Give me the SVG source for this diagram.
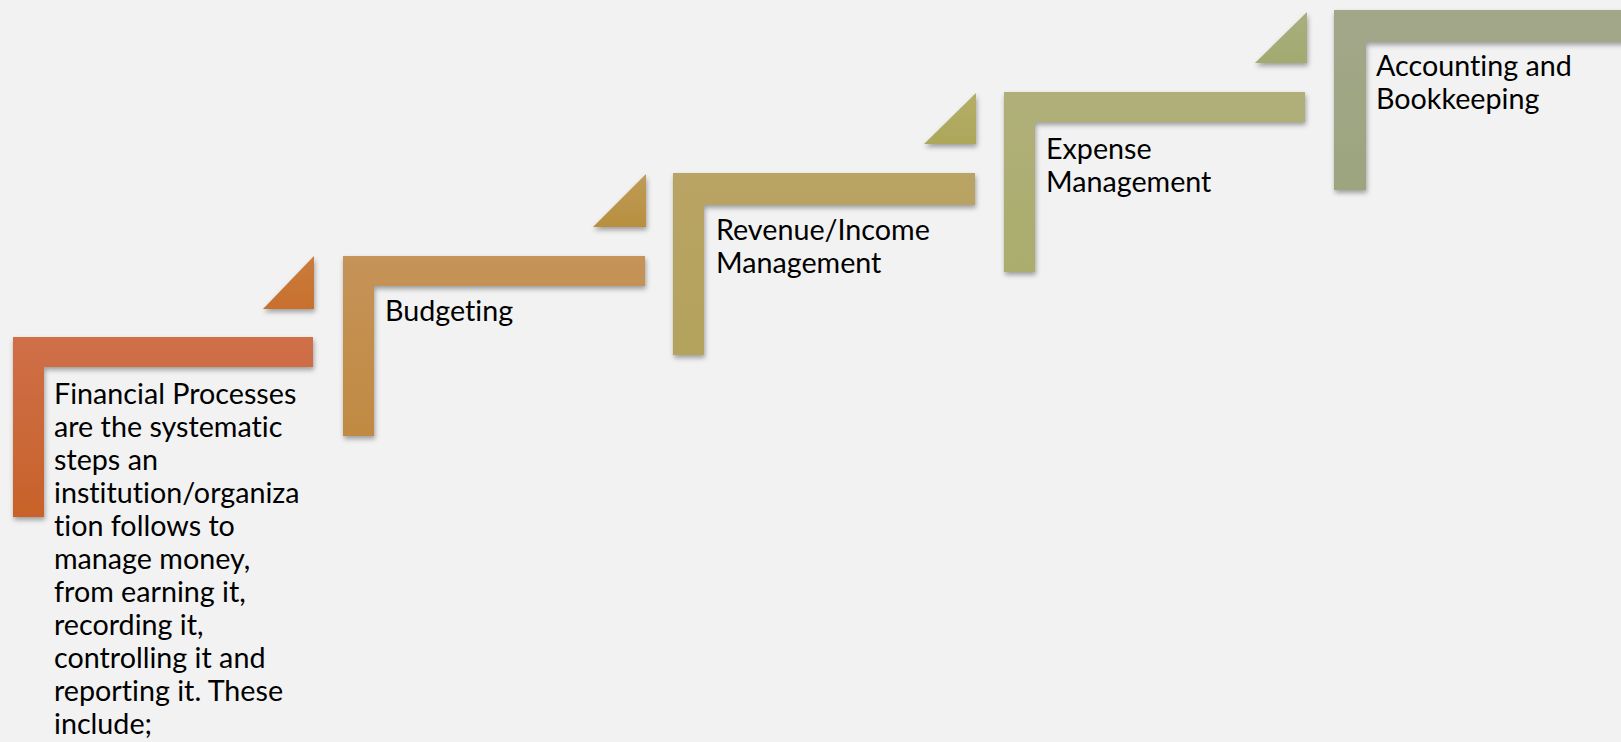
<svg xmlns="http://www.w3.org/2000/svg" width="1621" height="742" viewBox="0 0 1621 742">
  <style>
    .lbl { font-family: Lato, "Open Sans", "Liberation Sans", sans-serif; font-size: 28.7px; fill: #000; font-variant-ligatures: none; }
  </style>
  <defs>
    <filter id="sh" x="-10%" y="-10%" width="130%" height="130%">
      <feDropShadow dx="1" dy="3" stdDeviation="2.5" flood-color="#000" flood-opacity="0.35"/>
    </filter>
    <linearGradient id="g1" x1="0" y1="0" x2="0" y2="1">
      <stop offset="0" stop-color="#CF6F48"/>
      <stop offset="1" stop-color="#C8622A"/>
    </linearGradient>
    <linearGradient id="g2" x1="0" y1="0" x2="0" y2="1">
      <stop offset="0" stop-color="#C69358"/>
      <stop offset="1" stop-color="#C08A42"/>
    </linearGradient>
    <linearGradient id="g3" x1="0" y1="0" x2="0" y2="1">
      <stop offset="0" stop-color="#B9A365"/>
      <stop offset="1" stop-color="#B3A35C"/>
    </linearGradient>
    <linearGradient id="g4" x1="0" y1="0" x2="0" y2="1">
      <stop offset="0" stop-color="#B0AF7A"/>
      <stop offset="1" stop-color="#AAAD6C"/>
    </linearGradient>
    <linearGradient id="g5" x1="0" y1="0" x2="0" y2="1">
      <stop offset="0" stop-color="#A2A78A"/>
      <stop offset="1" stop-color="#9CA57E"/>
    </linearGradient>
    <linearGradient id="t1" x1="0" y1="0" x2="0" y2="1">
      <stop offset="0" stop-color="#CA7C3C"/>
      <stop offset="1" stop-color="#C8702E"/>
    </linearGradient>
    <linearGradient id="t2" x1="0" y1="0" x2="0" y2="1">
      <stop offset="0" stop-color="#BE9C58"/>
      <stop offset="1" stop-color="#B88F3E"/>
    </linearGradient>
    <linearGradient id="t3" x1="0" y1="0" x2="0" y2="1">
      <stop offset="0" stop-color="#B3AD68"/>
      <stop offset="1" stop-color="#ADA75A"/>
    </linearGradient>
    <linearGradient id="t4" x1="0" y1="0" x2="0" y2="1">
      <stop offset="0" stop-color="#A9AE7E"/>
      <stop offset="1" stop-color="#A3AA70"/>
    </linearGradient>
  </defs>
  <rect width="1621" height="742" fill="#F2F2F2"/>

  <g id="step1">
    <path d="M13 337 H313 V367 H44 V517 H13 Z" fill="url(#g1)" filter="url(#sh)"/>
    <polygon points="314,256 314,309 263,309" fill="url(#t1)" filter="url(#sh)"/>
    <text class="lbl" x="54" y="404">Financial Processes</text>
    <text class="lbl" x="54" y="437">are the systematic</text>
    <text class="lbl" x="54" y="470">steps an</text>
    <text class="lbl" x="54" y="503">institution/organiza</text>
    <text class="lbl" x="54" y="536">tion follows to</text>
    <text class="lbl" x="54" y="569">manage money,</text>
    <text class="lbl" x="54" y="602">from earning it,</text>
    <text class="lbl" x="54" y="635">recording it,</text>
    <text class="lbl" x="54" y="668">controlling it and</text>
    <text class="lbl" x="54" y="701">reporting it. These</text>
    <text class="lbl" x="54" y="734">include;</text>
  </g>

  <g id="step2">
    <path d="M343 256 H645 V286 H374 V436 H343 Z" fill="url(#g2)" filter="url(#sh)"/>
    <polygon points="646,174 646,227 593,227" fill="url(#t2)" filter="url(#sh)"/>
    <text class="lbl" x="385" y="321">Budgeting</text>
  </g>

  <g id="step3">
    <path d="M673 173 H975 V205 H704 V355 H673 Z" fill="url(#g3)" filter="url(#sh)"/>
    <polygon points="976,93 976,144 924,144" fill="url(#t3)" filter="url(#sh)"/>
    <text class="lbl" x="716" y="240">Revenue/Income</text>
    <text class="lbl" x="716" y="273">Management</text>
  </g>

  <g id="step4">
    <path d="M1004 92 H1305 V122 H1035 V272 H1004 Z" fill="url(#g4)" filter="url(#sh)"/>
    <polygon points="1307,12 1307,63 1255,63" fill="url(#t4)" filter="url(#sh)"/>
    <text class="lbl" x="1046" y="159">Expense</text>
    <text class="lbl" x="1046" y="192">Management</text>
  </g>

  <g id="step5">
    <path d="M1334 10 H1650 V42 H1366 V190 H1334 Z" fill="url(#g5)" filter="url(#sh)"/>
    <text class="lbl" x="1376" y="76">Accounting and</text>
    <text class="lbl" x="1376" y="109">Bookkeeping</text>
  </g>

  <g id="connectors"></g>
</svg>
